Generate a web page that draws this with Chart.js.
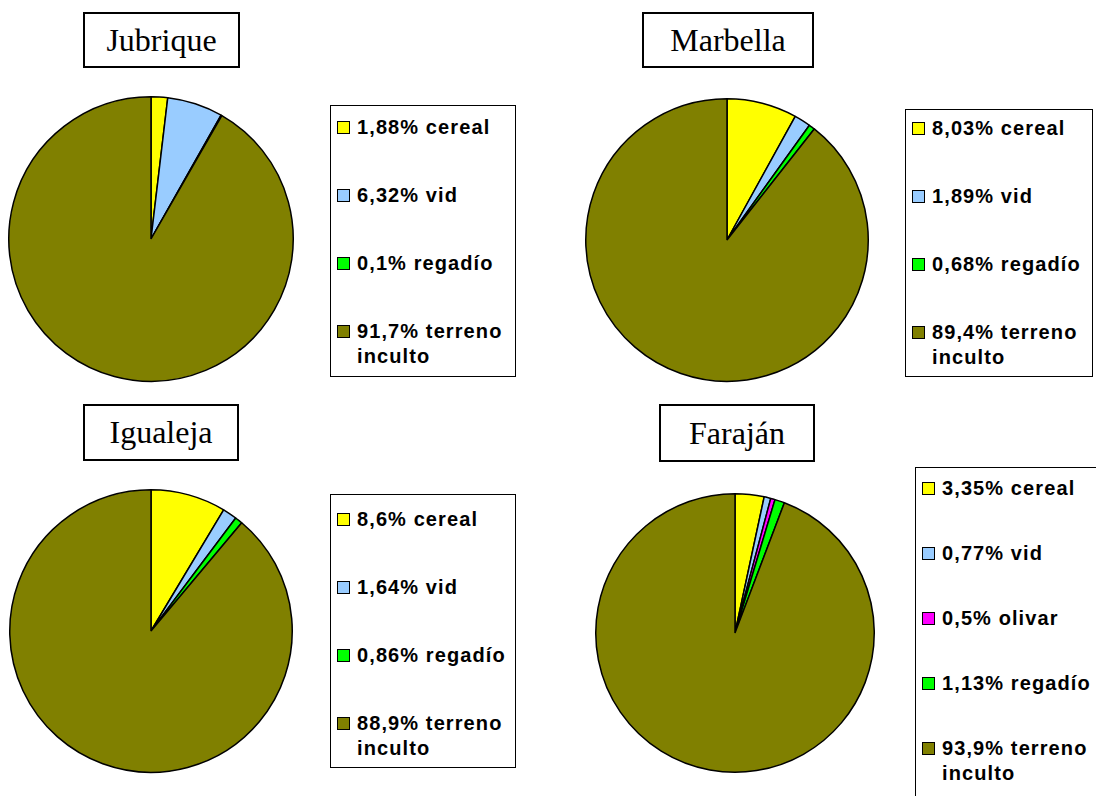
<!DOCTYPE html>
<html>
<head>
<meta charset="utf-8">
<script src="https://cdn.jsdelivr.net/npm/chart.js@4/dist/chart.umd.min.js"></script>
<style>
  html, body { margin: 0; padding: 0; background: #fff; }
  #page { position: relative; width: 1096px; height: 796px; overflow: hidden; background: #fff; }
  canvas { position: absolute; }
  .title {
    position: absolute; box-sizing: border-box; border: 2px solid #000;
    font-family: "Liberation Serif", "Times New Roman", serif; font-size: 32px;
    display: flex; align-items: center; justify-content: center; color: #000;
  }
  .legend {
    position: absolute; box-sizing: border-box; border: 1.5px solid #000; background: #fff;
    font-family: "Liberation Sans", Arial, sans-serif; font-weight: bold; font-size: 20px;
    letter-spacing: 1.1px; line-height: 25px; color: #000; padding-left: 6px;
  }
  .legend .item { display: flex; align-items: flex-start; }
  .legend .sw {
    width: 11px; height: 11px; border: 1.5px solid #000; flex: none;
    margin-top: 6px; margin-right: 7px;
  }
  .legend .txt { width: 150px; }
</style>
</head>
<body>
<div id="page"></div>
<script>
'use strict';

// data
var towns = ['Jubrique', 'Marbella', 'Igualeja', 'Faraján'];

var jubriqueLabels = ['1,88% cereal', '6,32% vid', '0,1% regadío', '91,7% terreno inculto'];
var jubriqueValues = [1.88, 6.32, 0.1, 91.7];

var marbellaLabels = ['8,03% cereal', '1,89% vid', '0,68% regadío', '89,4% terreno inculto'];
var marbellaValues = [8.03, 1.89, 0.68, 89.4];

var igualejaLabels = ['8,6% cereal', '1,64% vid', '0,86% regadío', '88,9% terreno inculto'];
var igualejaValues = [8.6, 1.64, 0.86, 88.9];

var farajanLabels = ['3,35% cereal', '0,77% vid', '0,5% olivar', '1,13% regadío', '93,9% terreno inculto'];
var farajanValues = [3.35, 0.77, 0.5, 1.13, 93.9];

var colorsFour = ['#FFFF00', '#99CCFF', '#00FF00', '#808000'];
var colorsFive = ['#FFFF00', '#99CCFF', '#FF00FF', '#00FF00', '#808000'];

// layout of each panel
var panels = [
  { labels: jubriqueLabels, values: jubriqueValues, colors: colorsFour,
    cx: 151, cy: 239, r: 143,
    title: [83, 12, 157, 56],
    legend: [330, 105, 186, 272], padTop: 9, gap: 43 },
  { labels: marbellaLabels, values: marbellaValues, colors: colorsFour,
    cx: 727, cy: 240, r: 142,
    title: [642, 12, 172, 56],
    legend: [905, 109, 188, 268], padTop: 6, gap: 43 },
  { labels: igualejaLabels, values: igualejaValues, colors: colorsFour,
    cx: 151, cy: 631, r: 142,
    title: [83, 404, 156, 57],
    legend: [330, 494, 186, 274], padTop: 12, gap: 43 },
  { labels: farajanLabels, values: farajanValues, colors: colorsFive,
    cx: 735, cy: 633, r: 140,
    title: [659, 404, 156, 58],
    legend: [915, 467, 190, 340], padTop: 8, gap: 40 }
];

var page = document.getElementById('page');

function box(cls, rect) {
  var el = document.createElement('div');
  el.className = cls;
  el.style.left = rect[0] + 'px';
  el.style.top = rect[1] + 'px';
  el.style.width = rect[2] + 'px';
  el.style.height = rect[3] + 'px';
  page.appendChild(el);
  return el;
}

function buildLegend(chart, p) {
  var el = box('legend', p.legend);
  el.style.paddingTop = p.padTop + 'px';
  var items = chart.options.plugins.legend.labels.generateLabels(chart);
  items.forEach(function(it, i) {
    var row = document.createElement('div');
    row.className = 'item';
    if (i > 0) row.style.marginTop = p.gap + 'px';
    var sw = document.createElement('span');
    sw.className = 'sw';
    sw.style.background = it.fillStyle;
    var txt = document.createElement('span');
    txt.className = 'txt';
    txt.textContent = it.text;
    row.appendChild(sw);
    row.appendChild(txt);
    el.appendChild(row);
  });
}

panels.forEach(function(p, i) {
  var t = box('title', p.title);
  t.textContent = towns[i];

  var size = 2 * p.r + 4;
  var cv = document.createElement('canvas');
  cv.width = size;
  cv.height = size;
  cv.style.left = (p.cx - size / 2) + 'px';
  cv.style.top = (p.cy - size / 2) + 'px';
  page.appendChild(cv);

  var chart = new Chart(cv.getContext('2d'), {
    type: 'pie',
    data: {
      labels: p.labels,
      datasets: [{
        data: p.values,
        backgroundColor: p.colors,
        borderColor: '#000',
        borderWidth: 1.5,
        hoverOffset: 0,
        offset: 0
      }]
    },
    options: {
      responsive: false,
      animation: false,
      events: [],
      layout: { padding: 2 },
      plugins: {
        legend: { display: false },
        tooltip: { enabled: false }
      }
    }
  });

  buildLegend(chart, p);
});
</script>
</body>
</html>
